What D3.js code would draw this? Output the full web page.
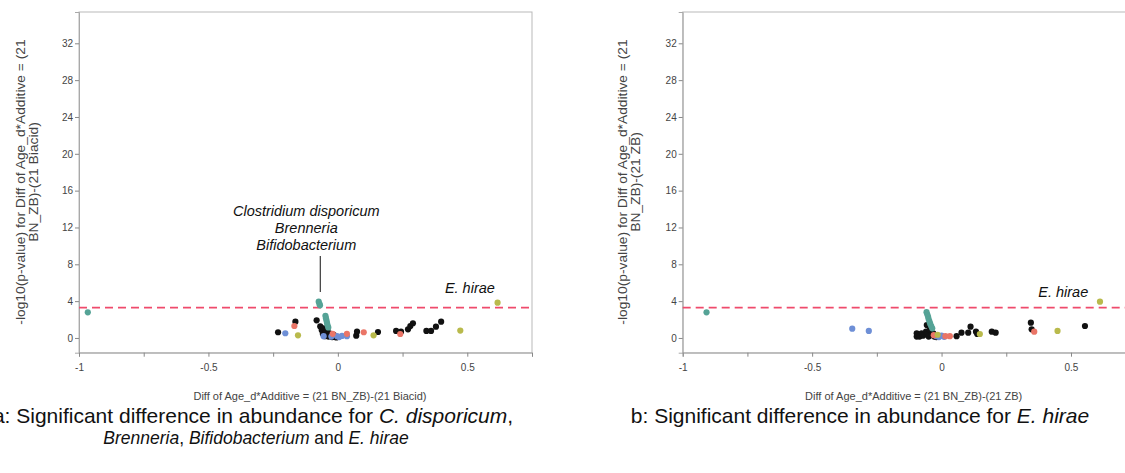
<!DOCTYPE html>
<html>
<head>
<meta charset="utf-8">
<script src="https://cdn.jsdelivr.net/npm/d3@7"></script>
<style>
  body { margin: 0; background: #fff; }
  svg { display: block; font-family: "Liberation Sans", Arial, sans-serif; }
</style>
</head>
<body>
<div id="chart"></div>
<script>
// ticks
const yTicks = [0, 4, 8, 12, 16, 20, 24, 28, 32];
const xTicks = [-1, -0.75, -0.5, -0.25, 0, 0.25, 0.5, 0.75];
const xLabelled = [-1, -0.5, 0, 0.5];
const threshold = 3.3;

// panel a : (21 BN_ZB)-(21 Biacid)   [diff, -log10 p]
const aBlack = [[-0.231,0.62],[-0.164,1.77],[-0.082,1.92],
  [-0.068,1.25],[-0.062,0.85],[-0.058,0.45],[-0.055,1.05],[-0.05,0.2],[-0.047,0.65],
  [-0.043,0.35],[-0.04,1.0],[-0.036,0.15],[-0.032,0.5],[-0.028,0.25],[-0.022,0.1],
  [-0.016,0.35],[-0.012,0.12],[-0.006,0.05],
  [0.071,0.25],[0.074,0.68],[0.155,0.65],[0.225,0.76],[0.244,0.68],[0.271,0.94],
  [0.28,1.3],[0.29,1.6],[0.342,0.76],[0.36,0.76],[0.379,1.23],[0.399,1.77]];
const aTeal = [[-0.966,2.79],[-0.074,3.94],[-0.071,3.7],[-0.069,3.55],
  [-0.048,2.4],[-0.046,2.15],[-0.044,1.9],[-0.042,1.65],[-0.04,1.4],[-0.037,1.15]];
const aBlue = [[-0.203,0.51],[-0.055,0.2],[-0.025,0.15],[-0.003,0.2],[0.005,0.1],
  [0.016,0.22],[0.035,0.2]];
const aSalmon = [[-0.168,1.3],[-0.02,0.45],[0.035,0.45],[0.1,0.62],[0.241,0.43]];
const aOlive = [[-0.154,0.29],[0.138,0.29],[0.473,0.8],[0.617,3.83]];

// panel b : (21 BN_ZB)-(21 ZB)
const bBlack = [[-0.096,0.15],[-0.096,0.5],[-0.085,0.15],[-0.077,0.5],[-0.072,0.25],
  [-0.06,0.68],[-0.057,1.4],[-0.055,0.35],[-0.05,0.15],[-0.045,0.87],[-0.04,0.3],
  [-0.032,0.5],[-0.028,0.15],[-0.02,0.1],
  [0.058,0.2],[0.077,0.57],[0.103,0.57],[0.112,1.23],[0.133,0.68],[0.138,0.43],
  [0.194,0.68],[0.209,0.57],[0.345,1.66],[0.348,0.94],[0.554,1.3]];
const bTeal = [[-0.908,2.79],[-0.058,2.8],[-0.055,2.55],[-0.052,2.3],[-0.05,2.05],
  [-0.047,1.8],[-0.044,1.55],[-0.04,1.3],[-0.036,1.05]];
const bBlue = [[-0.345,1.01],[-0.281,0.76],[-0.02,0.2],[-0.01,0.1],[0.0,0.25],[0.01,0.12]];
const bSalmon = [[-0.03,0.3],[0.015,0.2],[0.032,0.2],[0.358,0.68]];
const bOlive = [[-0.015,0.35],[0.148,0.43],[0.448,0.76],[0.612,3.94]];

const colors = {black: "#111111", teal: "#55a396", blue: "#6e8fd6", salmon: "#ea7567", olive: "#b9ba4c"};

const svg = d3.select("#chart").append("svg")
    .attr("width", 1125)
    .attr("height", 473);

function drawPanel(p) {
    const x = d3.scaleLinear().domain([-1, 0.75]).range([p.left, p.left + 453]);
    const y = d3.scaleLinear().domain([-1.6, 35.4]).range([352.7, 12]);
    const g = svg.append("g");

    // frame
    g.append("rect")
        .attr("x", p.left).attr("y", 12)
        .attr("width", 453).attr("height", 340.7)
        .attr("fill", "none").attr("stroke", "#b9b9b9");

    // Add Y axis
    const ya = g.append("g")
        .attr("transform", "translate(" + p.left + ",0)")
        .call(d3.axisLeft(y).tickValues(yTicks).tickSize(4).tickPadding(2));
    // Add X axis
    const xa = g.append("g")
        .attr("transform", "translate(0,352.7)")
        .call(d3.axisBottom(x).tickValues(xTicks).tickSize(4).tickPadding(7)
            .tickFormat(d => xLabelled.includes(d) ? d3.format("")(d) : ""));
    [ya, xa].forEach(a => {
        a.select(".domain").attr("stroke", "#a9a9a9");
        a.selectAll(".tick line").attr("stroke", "#888");
        a.selectAll("text").attr("fill", "#444").style("font-size", "10px")
            .style("font-family", "'Liberation Sans', Arial, sans-serif");
    });
    xa.selectAll("text").text(function () { return this.textContent.replace("−", "-"); });

    // threshold line
    g.append("line")
        .attr("x1", p.left).attr("x2", p.left + 453)
        .attr("y1", y(threshold)).attr("y2", y(threshold))
        .attr("stroke", "#ef4b6c").attr("stroke-width", 1.6)
        .attr("stroke-dasharray", "8,5");

    // dots
    p.groups.forEach(([data, col]) => {
        g.append("g").selectAll("circle")
            .data(data).enter().append("circle")
            .attr("cx", d => x(d[0]))
            .attr("cy", d => y(d[1]))
            .attr("r", 3.1)
            .style("fill", colors[col]);
    });

    // y title
    const yt = g.append("text")
        .attr("transform", "translate(" + (p.left - p.yOff) + ",182) rotate(-90) scale(1.15,1)")
        .attr("text-anchor", "middle")
        .attr("fill", "#444").style("font-size", "12px");
    yt.append("tspan").attr("x", 0).attr("dy", 0)
        .text("-log10(p-value) for Diff of Age_d*Additive = (21");
    yt.append("tspan").attr("x", 0).attr("dy", 13).text(p.yTitle2);

    // x title
    g.append("text")
        .attr("x", p.left + 231).attr("y", 400)
        .attr("text-anchor", "middle")
        .attr("fill", "#444").style("font-size", "11px")
        .text(p.xTitle);

    // annotations
    p.notes.forEach(n => {
        g.append("text")
            .attr("x", x(n.x)).attr("y", n.y)
            .attr("text-anchor", "middle")
            .attr("fill", "#111").style("font-size", "14.5px").style("font-style", "italic")
            .text(n.text);
    });
    return x;
}

const xa = drawPanel({
    left: 79,
    yOff: 54,
    yTitle2: "BN_ZB)-(21 Biacid)",
    xTitle: "Diff of Age_d*Additive = (21 BN_ZB)-(21 Biacid)",
    groups: [[aBlack, "black"], [aTeal, "teal"], [aBlue, "blue"], [aSalmon, "salmon"], [aOlive, "olive"]],
    notes: [
        {x: -0.122, y: 216, text: "Clostridium disporicum"},
        {x: -0.122, y: 233, text: "Brenneria"},
        {x: -0.122, y: 250, text: "Bifidobacterium"},
        {x: 0.51, y: 293, text: "E. hirae"}
    ]
});
// leader line to the significant cluster
svg.append("line")
    .attr("x1", xa(-0.068)).attr("x2", xa(-0.068))
    .attr("y1", 256).attr("y2", 292)
    .attr("stroke", "#111").attr("stroke-width", 1);

drawPanel({
    left: 682.7,
    yOff: 56,
    yTitle2: "BN_ZB)-(21 ZB)",
    xTitle: "Diff of Age_d*Additive = (21 BN_ZB)-(21 ZB)",
    groups: [[bBlack, "black"], [bTeal, "teal"], [bBlue, "blue"], [bSalmon, "salmon"], [bOlive, "olive"]],
    notes: [
        {x: 0.47, y: 297, text: "E. hirae"}
    ]
});

// captions
const cap = svg.append("g").attr("fill", "#111").style("font-size", "21px");
const c1 = cap.append("text").attr("x", 253).attr("y", 423).attr("text-anchor", "middle");
c1.append("tspan").text("a: Significant difference in abundance for ");
c1.append("tspan").style("font-style", "italic").text("C. disporicum");
c1.append("tspan").text(",");
const c2 = cap.append("text").attr("x", 256).attr("y", 444).attr("text-anchor", "middle")
    .style("font-size", "17.5px");
c2.append("tspan").style("font-style", "italic").text("Brenneria");
c2.append("tspan").text(", ");
c2.append("tspan").style("font-style", "italic").text("Bifidobacterium");
c2.append("tspan").text(" and ");
c2.append("tspan").style("font-style", "italic").text("E. hirae");
const c3 = cap.append("text").attr("x", 860).attr("y", 423).attr("text-anchor", "middle");
c3.append("tspan").text("b: Significant difference in abundance for ");
c3.append("tspan").style("font-style", "italic").text("E. hirae");
</script>
</body>
</html>
